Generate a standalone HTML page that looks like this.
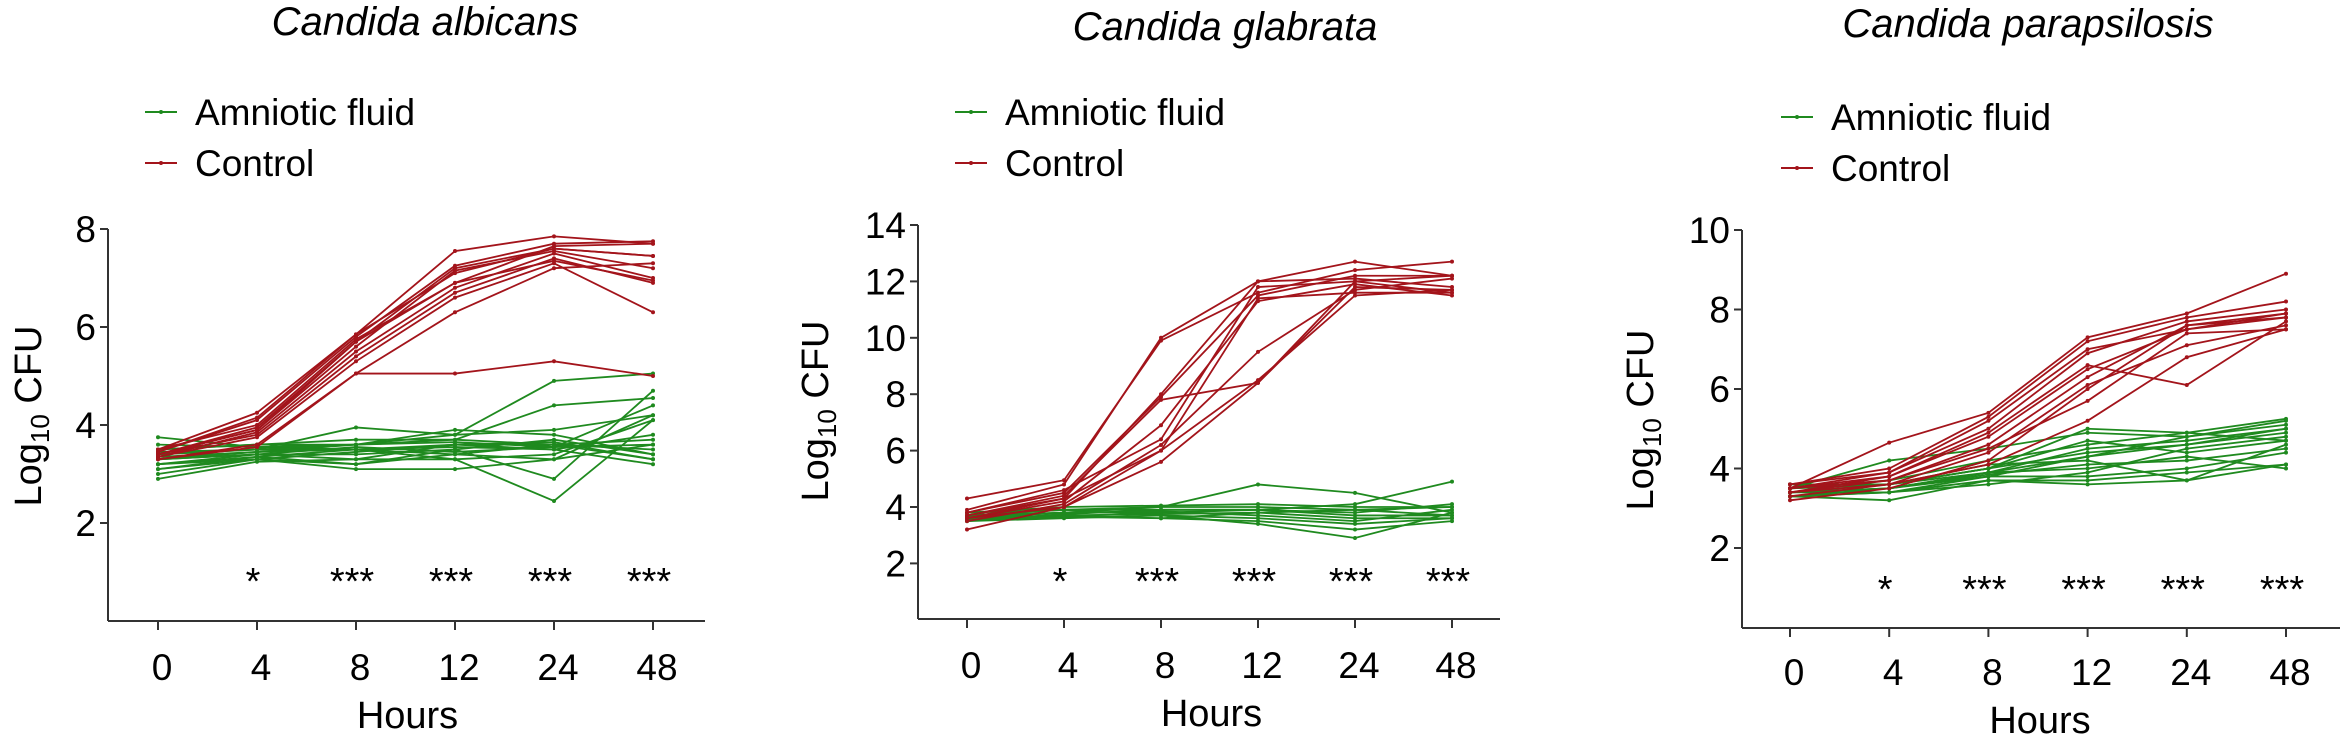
<!DOCTYPE html>
<html><head><meta charset="utf-8"><style>
body{margin:0;background:#fff;}
svg{display:block;font-family:"Liberation Sans",Arial,sans-serif;}
</style></head><body>
<svg id="fig" width="2341" height="735" viewBox="0 0 2341 735" xmlns="http://www.w3.org/2000/svg"></svg>
<script>
const hours=["0","4","8","12","24","48"];
const stars=["","*","***","***","***","***"];
const titles=["Candida albicans","Candida glabrata","Candida parapsilosis"];
const yTicksA=[2,4,6,8];
const yTicksB=[2,4,6,8,10,12,14];
const yTicksC=[2,4,6,8,10];
const ctrlA=[[3.5,4.25,5.85,7.55,7.85,7.7],[3.45,4.1,5.8,7.25,7.7,7.75],[3.4,3.95,5.7,7.2,7.6,7.45],[3.4,3.9,5.6,7.15,7.55,7.2],[3.35,3.85,5.5,6.8,7.5,7.0],[3.4,3.8,5.4,6.7,7.4,6.9],[3.35,3.75,5.3,6.6,7.3,6.3],[3.3,3.6,5.05,6.3,7.2,7.3],[3.3,3.55,5.05,5.05,5.3,5.0],[3.5,4.0,5.75,6.9,7.65,7.7],[3.4,3.9,5.7,6.9,7.35,6.95],[3.45,4.15,5.85,7.1,7.6,7.45]];
const amnA=[[3.75,3.55,3.5,3.4,3.6,3.5],[3.4,3.5,3.95,3.8,4.9,5.05],[3.3,3.45,3.6,3.7,4.4,4.55],[3.2,3.4,3.3,3.3,2.45,4.1],[3.1,3.3,3.2,3.5,2.9,4.7],[3.5,3.6,3.6,3.8,3.9,4.2],[3.4,3.5,3.5,3.6,3.6,3.3],[3.3,3.4,3.4,3.5,3.7,3.4],[3.2,3.35,3.5,3.55,3.5,3.2],[3.0,3.3,3.1,3.1,3.3,3.6],[3.5,3.6,3.7,3.7,3.6,3.7],[3.3,3.4,3.55,3.45,3.55,4.4],[2.9,3.25,3.3,3.6,3.5,3.8],[3.45,3.5,3.6,3.9,3.8,3.4],[3.35,3.45,3.5,3.3,3.4,4.1],[3.2,3.3,3.45,3.6,3.65,3.3],[3.6,3.55,3.6,3.65,3.55,3.6],[3.1,3.35,3.2,3.4,3.3,4.2]];
const ctrlB=[[4.3,4.95,9.9,11.6,12.4,12.7],[3.9,4.8,10.0,12.0,12.7,12.2],[3.8,4.5,7.9,11.5,12.2,12.2],[3.7,4.3,8.0,12.0,12.1,11.8],[3.6,4.2,6.9,11.3,11.9,11.5],[3.5,4.1,6.2,9.5,11.7,12.1],[3.6,4.0,6.0,8.5,11.5,11.7],[3.2,4.0,5.6,8.4,12.0,11.6],[3.7,4.4,7.8,8.4,11.8,11.7],[3.8,4.6,6.4,11.8,12.0,12.2],[3.6,4.3,6.0,11.4,11.6,11.6]];
const amnB=[[3.6,3.8,4.0,4.8,4.5,3.8],[3.7,3.9,3.9,3.9,4.1,4.9],[3.5,3.6,3.7,3.4,2.9,3.8],[3.6,3.7,3.6,3.5,3.2,3.5],[3.8,3.9,4.0,4.0,3.9,4.0],[3.7,3.8,3.8,3.9,3.7,3.7],[3.6,3.7,3.75,3.8,3.6,3.6],[3.5,3.75,3.9,3.9,3.8,4.1],[3.65,3.8,3.85,3.7,3.5,3.9],[3.7,3.9,3.7,3.6,3.4,3.6],[3.55,3.65,3.6,3.8,3.9,3.7],[3.8,4.0,4.05,4.1,4.0,4.0]];
const ctrlC=[[3.5,4.65,5.4,7.3,7.9,8.9],[3.6,4.0,5.3,7.2,7.8,8.2],[3.5,3.9,5.0,6.9,7.7,8.0],[3.4,3.8,4.8,6.5,7.5,7.9],[3.4,3.7,4.6,6.3,7.6,7.8],[3.3,3.6,4.4,6.1,7.1,7.6],[3.5,3.7,4.5,5.7,7.4,7.5],[3.4,3.6,4.1,5.2,6.8,7.5],[3.5,3.8,4.9,6.6,6.1,7.7],[3.2,3.5,4.2,6.0,7.6,7.9],[3.6,3.9,5.2,7.0,7.5,7.8]];
const amnC=[[3.4,3.6,4.0,5.0,4.9,5.25],[3.5,4.2,4.5,4.9,4.8,5.1],[3.3,3.5,3.9,4.5,4.7,5.0],[3.4,3.4,3.8,4.3,4.6,4.9],[3.5,3.6,4.0,4.7,4.4,4.7],[3.3,3.2,3.7,3.6,3.7,4.6],[3.4,3.5,3.9,4.0,4.3,4.0],[3.5,3.6,4.1,4.2,3.7,4.1],[3.4,3.5,3.8,3.8,4.0,4.4],[3.3,3.4,3.6,3.9,4.5,4.8],[3.5,3.7,4.2,4.6,4.9,4.7],[3.4,3.5,3.85,4.1,4.2,4.5],[3.6,3.6,4.0,4.4,4.6,5.0],[3.3,3.4,3.7,3.7,3.9,4.1],[3.4,3.6,3.9,4.3,4.8,5.2]];

const panels=[
 {ax:108,x0:158,dx:99,xEnd:705,yTop:229,yBase:621,vTop:8,vStep:98/2,ticks:yTicksA,ctrl:ctrlA,amn:amnA,titleX:425,titleY:35,legX:145,legY:112,ylabX:28,ylabY:416,starY:580,tickLabY:667,hoursY:715},
 {ax:918,x0:967,dx:97,xEnd:1500,yTop:225,yBase:619,vTop:14,vStep:56.4/2,ticks:yTicksB,ctrl:ctrlB,amn:amnB,titleX:1225,titleY:40,legX:955,legY:112,ylabX:815,ylabY:411,starY:580,tickLabY:665,hoursY:713},
 {ax:1742,x0:1790,dx:99.2,xEnd:2340,yTop:230,yBase:628,vTop:10,vStep:79.5/2,ticks:yTicksC,ctrl:ctrlC,amn:amnC,titleX:2028,titleY:37,legX:1781,legY:117,ylabX:1640,ylabY:420,starY:588,tickLabY:672,hoursY:720}
];
const NS="http://www.w3.org/2000/svg";
const svg=document.getElementById('fig');
function mk(tag,attrs,parent){const e=document.createElementNS(NS,tag);for(const k in attrs)e.setAttribute(k,attrs[k]);(parent||svg).appendChild(e);return e;}
const RED="#a3141b",GREEN="#1f8a1f";
panels.forEach((p,pi)=>{
 const g=mk('g',{});
 
 
 const xS=i=>p.x0+i*p.dx;
 const yS=v=>p.yTop+(p.vTop-v)*p.vStep;
 const t=mk('text',{x:p.titleX,y:p.titleY,'text-anchor':'middle','font-size':40,'font-style':'italic'},g);t.textContent=titles[pi];
 
 
 [["Amniotic fluid",GREEN,p.legY],["Control",RED,p.legY+51]].forEach(([lab,col,yy],li)=>{
  const lg=mk('g',{},g);
  
  
  mk('line',{x1:p.legX,y1:yy,x2:p.legX+32,y2:yy,stroke:col,'stroke-width':2},lg);
  mk('circle',{cx:p.legX+16,cy:yy,r:2,fill:col},lg);
  const tx=mk('text',{x:p.legX+50,y:yy+13,'font-size':37},lg);tx.textContent=lab;
 });
 // axes
 const axG=mk('g',{stroke:'#333','stroke-width':2},g);
 
 
 mk('line',{x1:p.ax,y1:p.yTop,x2:p.ax,y2:p.yBase},axG);
 mk('line',{x1:p.ax,y1:p.yBase,x2:p.xEnd,y2:p.yBase},axG);
 p.ticks.forEach(v=>{
  mk('line',{x1:p.ax-8,y1:yS(v),x2:p.ax,y2:yS(v)},axG);
  const tl=mk('text',{x:p.ax-12,y:yS(v)+13,'text-anchor':'end','font-size':37,stroke:'none',fill:'#000'},g);tl.textContent=v;
  
  
 });
 hours.forEach((h,i)=>{
  mk('line',{x1:xS(i),y1:p.yBase,x2:xS(i),y2:p.yBase+9},axG);
  const tl=mk('text',{x:xS(i)+4,y:p.tickLabY+13,'text-anchor':'middle','font-size':37},g);tl.textContent=h;
  
  
  if(stars[i]){const st=mk('text',{x:xS(i)-4,y:p.starY+14,'text-anchor':'middle','font-size':38},g);st.textContent=stars[i];
   
   }
 });
 const ht=mk('text',{x:(p.x0+xS(5))/2+2,y:p.hoursY+13,'text-anchor':'middle','font-size':38},g);ht.textContent="Hours";
 
 
 const yt=mk('text',{x:0,y:0,'text-anchor':'middle','font-size':38,transform:`translate(${p.ylabX+13},${p.ylabY}) rotate(-90)`},g);
 yt.innerHTML='Log<tspan font-size="26" dy="8">10</tspan><tspan dy="-8"> CFU</tspan>';
 
 
 const drawSeries=(arr,col,name)=>{arr.forEach(s=>{
  const pl=mk('polyline',{points:s.map((v,i)=>xS(i)+','+yS(v)).join(' '),fill:'none',stroke:col,'stroke-width':1.8},g);
  
  
  s.forEach((v,i)=>mk('circle',{cx:xS(i),cy:yS(v),r:2,fill:col},g));
 });};
 drawSeries(p.amn,GREEN,'amniotic-fluid');
 drawSeries(p.ctrl,RED,'control');
});
</script>
</body></html>
